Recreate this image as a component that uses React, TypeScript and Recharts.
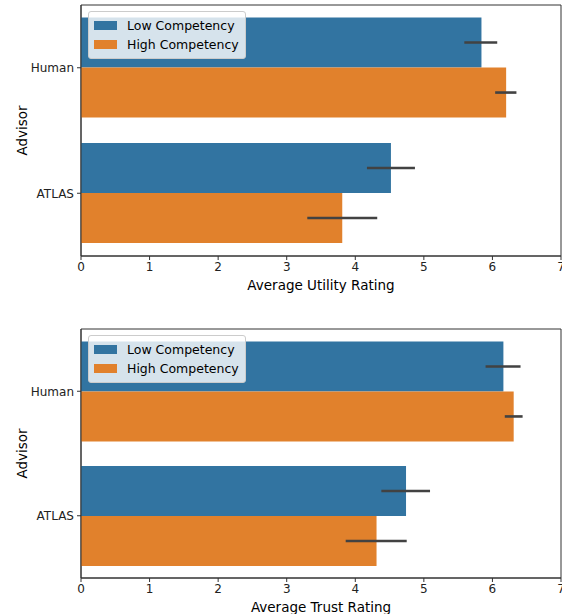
import React from 'react';
import { BarChart, Bar, XAxis, YAxis, ErrorBar, ReferenceArea, Legend } from 'recharts';

const advisors = ['Human', 'ATLAS'];
const xTicks = [0, 1, 2, 3, 4, 5, 6, 7];

// Utility ratings
const utilityLow = [5.84, 4.52];
const utilityLowCI = [[5.59, 6.07], [4.17, 4.87]];
const utilityHigh = [6.2, 3.81];
const utilityHighCI = [[6.04, 6.35], [3.3, 4.32]];

// Trust ratings
const trustLow = [6.16, 4.74];
const trustLowCI = [[5.9, 6.41], [4.38, 5.09]];
const trustHigh = [6.31, 4.31];
const trustHighCI = [[6.18, 6.44], [3.86, 4.75]];

const BLUE = '#3274a1';
const ORANGE = '#e1812c';
const FONT = 'DejaVu Sans, sans-serif';

function build(low: number[], lowCI: number[][], high: number[], highCI: number[][]) {
  return advisors.map((a, i) => ({
    advisor: a,
    low: low[i],
    lowErr: [low[i] - lowCI[i][0], lowCI[i][1] - low[i]],
    high: high[i],
    highErr: [high[i] - highCI[i][0], highCI[i][1] - high[i]],
  }));
}

const LegendBox = () => (
  <div
    style={{
      border: '1px solid #cccccc',
      borderRadius: 3,
      background: 'rgba(255,255,255,0.8)',
      padding: '4px 6px 4px 5px',
      fontFamily: FONT,
      fontSize: 12.5,
      color: '#000',
      lineHeight: '19px',
    }}
  >
    {[
      ['Low Competency', BLUE],
      ['High Competency', ORANGE],
    ].map(([t, c]) => (
      <div key={t} style={{ display: 'flex', alignItems: 'center', whiteSpace: 'nowrap' }}>
        <span style={{ display: 'inline-block', width: 23, height: 9, background: c, marginRight: 10 }} />
        <span>{t}</span>
      </div>
    ))}
  </div>
);

function Panel({ data, xLabel, top, height }: { data: any[]; xLabel: string; top: number; height: number }) {
  return (
    <div style={{ position: 'absolute', left: 0, top }}>
      <BarChart
        width={562}
        height={height}
        data={data}
        layout="vertical"
        margin={{ top: 5, right: 1, bottom: 0, left: 0 }}
        barCategoryGap="10%"
        barGap={0}
      >
        <XAxis
          type="number"
          domain={[0, 7]}
          ticks={xTicks}
          interval={0}
          tickSize={4}
          tickMargin={2}
          height={44}
          stroke="#333"
          tick={{ fill: '#222', fontSize: 12, fontFamily: FONT }}
          label={{ value: xLabel, position: 'insideBottom', offset: 10, style: { fill: '#000', fontSize: 13.5, fontFamily: FONT } }}
        />
        <YAxis
          type="category"
          dataKey="advisor"
          width={81}
          tickSize={4}
          tickMargin={3}
          stroke="#333"
          tick={{ fill: '#222', fontSize: 12, fontFamily: FONT }}
          label={{ value: 'Advisor', angle: -90, position: 'insideLeft', offset: 22, style: { fill: '#000', fontSize: 13.5, fontFamily: FONT, textAnchor: 'middle' } }}
        />
        <Bar dataKey="low" fill={BLUE} isAnimationActive={false}>
          <ErrorBar dataKey="lowErr" direction="x" width={0} stroke="#424242" strokeWidth={2.6} />
        </Bar>
        <Bar dataKey="high" fill={ORANGE} isAnimationActive={false}>
          <ErrorBar dataKey="highErr" direction="x" width={0} stroke="#424242" strokeWidth={2.6} />
        </Bar>
        <ReferenceArea x1={0} x2={7} fill="none" stroke="#333" strokeWidth={1} ifOverflow="visible" />
        <Legend
          layout="vertical"
          align="center"
          verticalAlign="middle"
          wrapperStyle={{ top: 11, left: 88, width: 'auto', height: 'auto' }}
          content={() => <LegendBox />}
        />
      </BarChart>
    </div>
  );
}

export default function App() {
  const utility = build(utilityLow, utilityLowCI, utilityHigh, utilityHighCI);
  const trust = build(trustLow, trustLowCI, trustHigh, trustHighCI);
  return (
    <div style={{ position: 'absolute', left: 0, top: 0, width: 562, height: 614, overflow: 'hidden', background: '#fff' }}>
      <Panel data={utility} xLabel="Average Utility Rating" top={0} height={300} />
      <Panel data={trust} xLabel="Average Trust Rating" top={324} height={298} />
    </div>
  );
}
